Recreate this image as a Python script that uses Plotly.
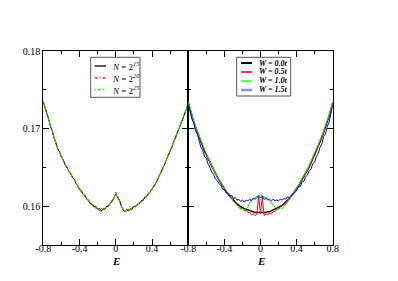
import plotly.graph_objects as go

# Energy grid (E in units of t)
E = [-0.80, -0.78, -0.76, -0.74, -0.72, -0.70, -0.68, -0.66, -0.64, -0.62,
     -0.60, -0.58, -0.56, -0.54, -0.52, -0.50, -0.48, -0.46, -0.44, -0.42,
     -0.40, -0.38, -0.36, -0.34, -0.32, -0.30, -0.28, -0.26, -0.24, -0.22,
     -0.20, -0.18, -0.16, -0.14, -0.12, -0.10, -0.08, -0.06, -0.04, -0.02,
     0.00,
     0.02, 0.04, 0.06, 0.08, 0.10, 0.12, 0.14, 0.16, 0.18, 0.20,
     0.22, 0.24, 0.26, 0.28, 0.30, 0.32, 0.34, 0.36, 0.38, 0.40,
     0.42, 0.44, 0.46, 0.48, 0.50, 0.52, 0.54, 0.56, 0.58, 0.60,
     0.62, 0.64, 0.66, 0.68, 0.70, 0.72, 0.74, 0.76, 0.78, 0.80]

# Left panel: system sizes
n15 = [0.1735, 0.1728, 0.1718, 0.1712, 0.1702, 0.1697, 0.1687, 0.1682, 0.1673, 0.1670,
       0.1663, 0.1660, 0.1653, 0.1651, 0.1645, 0.1643, 0.1637, 0.1635, 0.1629, 0.1627,
       0.1621, 0.1620, 0.1615, 0.1614, 0.1609, 0.1608, 0.1603, 0.1603, 0.1599, 0.1600,
       0.1596, 0.1597, 0.1594, 0.1597, 0.1596, 0.1600, 0.1600, 0.1604, 0.1606, 0.1612,
       0.1616,
       0.1611, 0.1608, 0.1600, 0.1597, 0.1593, 0.1596, 0.1594, 0.1597, 0.1596, 0.1600,
       0.1599, 0.1603, 0.1603, 0.1607, 0.1607, 0.1612, 0.1612, 0.1617, 0.1618, 0.1623,
       0.1625, 0.1630, 0.1633, 0.1640, 0.1643, 0.1650, 0.1654, 0.1661, 0.1665, 0.1672,
       0.1676, 0.1684, 0.1688, 0.1696, 0.1700, 0.1708, 0.1712, 0.1720, 0.1725, 0.1734]
n20 = [0.1733, 0.1726, 0.1720, 0.1710, 0.1704, 0.1695, 0.1689, 0.1680, 0.1675, 0.1668,
       0.1665, 0.1658, 0.1655, 0.1649, 0.1646, 0.1641, 0.1639, 0.1633, 0.1631, 0.1625,
       0.1623, 0.1618, 0.1617, 0.1612, 0.1611, 0.1606, 0.1605, 0.1601, 0.1601, 0.1597,
       0.1598, 0.1594, 0.1597, 0.1595, 0.1598, 0.1598, 0.1602, 0.1602, 0.1608, 0.1610,
       0.1618,
       0.1613, 0.1606, 0.1602, 0.1595, 0.1595, 0.1593, 0.1596, 0.1595, 0.1598, 0.1598,
       0.1601, 0.1601, 0.1605, 0.1605, 0.1609, 0.1610, 0.1614, 0.1615, 0.1620, 0.1621,
       0.1627, 0.1628, 0.1635, 0.1638, 0.1645, 0.1648, 0.1655, 0.1659, 0.1667, 0.1670,
       0.1678, 0.1682, 0.1690, 0.1694, 0.1702, 0.1706, 0.1714, 0.1718, 0.1727, 0.1733]
n25 = [0.1736, 0.1727, 0.1719, 0.1711, 0.1703, 0.1696, 0.1688, 0.1681, 0.1674, 0.1669,
       0.1664, 0.1659, 0.1654, 0.1650, 0.1646, 0.1642, 0.1638, 0.1634, 0.1630, 0.1626,
       0.1622, 0.1619, 0.1616, 0.1613, 0.1610, 0.1607, 0.1604, 0.1602, 0.1600, 0.1599,
       0.1597, 0.1595, 0.1593, 0.1596, 0.1597, 0.1599, 0.1601, 0.1603, 0.1607, 0.1611,
       0.1615,
       0.1612, 0.1607, 0.1601, 0.1596, 0.1594, 0.1594, 0.1595, 0.1596, 0.1597, 0.1599,
       0.1600, 0.1602, 0.1604, 0.1606, 0.1608, 0.1611, 0.1613, 0.1616, 0.1619, 0.1622,
       0.1626, 0.1629, 0.1634, 0.1639, 0.1644, 0.1649, 0.1655, 0.1660, 0.1666, 0.1671,
       0.1677, 0.1683, 0.1689, 0.1695, 0.1701, 0.1707, 0.1713, 0.1719, 0.1726, 0.1735]

# Right panel: disorder strengths
w00 = [0.1733, 0.1724, 0.1716, 0.1709, 0.1702, 0.1695, 0.1689, 0.1683, 0.1677, 0.1671,
       0.1666, 0.1661, 0.1656, 0.1651, 0.1647, 0.1642, 0.1638, 0.1634, 0.1630, 0.1626,
       0.1622, 0.1619, 0.1616, 0.1613, 0.1610, 0.1607, 0.1605, 0.1603, 0.1601, 0.1599,
       0.1598, 0.1597, 0.1596, 0.1595, 0.1594, 0.1593, 0.1593, 0.1592, 0.1592, 0.1592,
       0.1592,
       0.1592, 0.1592, 0.1592, 0.1593, 0.1593, 0.1594, 0.1595, 0.1596, 0.1597, 0.1598,
       0.1599, 0.1601, 0.1603, 0.1605, 0.1607, 0.1610, 0.1613, 0.1616, 0.1619, 0.1622,
       0.1626, 0.1630, 0.1634, 0.1638, 0.1642, 0.1647, 0.1651, 0.1656, 0.1661, 0.1666,
       0.1671, 0.1677, 0.1683, 0.1689, 0.1695, 0.1702, 0.1709, 0.1716, 0.1724, 0.1733]
w05 = [0.1734, 0.1723, 0.1717, 0.1708, 0.1703, 0.1694, 0.1690, 0.1682, 0.1678, 0.1670,
       0.1667, 0.1660, 0.1657, 0.1650, 0.1648, 0.1641, 0.1639, 0.1633, 0.1631, 0.1625,
       0.1623, 0.1618, 0.1617, 0.1612, 0.1611, 0.1606, 0.1605, 0.1601, 0.1601, 0.1597,
       0.1597, 0.1594, 0.1595, 0.1592, 0.1592, 0.1589, 0.1590, 0.1588, 0.1590, 0.1614,
       0.1590,
       0.1612, 0.1588, 0.1590, 0.1589, 0.1591, 0.1590, 0.1593, 0.1593, 0.1596, 0.1597,
       0.1600, 0.1600, 0.1604, 0.1604, 0.1608, 0.1609, 0.1614, 0.1615, 0.1620, 0.1621,
       0.1627, 0.1629, 0.1635, 0.1637, 0.1643, 0.1646, 0.1652, 0.1655, 0.1662, 0.1665,
       0.1672, 0.1676, 0.1684, 0.1688, 0.1696, 0.1701, 0.1710, 0.1715, 0.1725, 0.1732]
w10 = [0.1735, 0.1726, 0.1717, 0.1710, 0.1703, 0.1697, 0.1690, 0.1684, 0.1678, 0.1673,
       0.1667, 0.1662, 0.1657, 0.1652, 0.1647, 0.1643, 0.1638, 0.1635, 0.1630, 0.1627,
       0.1623, 0.1619, 0.1617, 0.1613, 0.1611, 0.1606, 0.1604, 0.1601, 0.1598, 0.1596,
       0.1597, 0.1595, 0.1597, 0.1599, 0.1604, 0.1609, 0.1610, 0.1611, 0.1612, 0.1614,
       0.1615,
       0.1613, 0.1612, 0.1611, 0.1610, 0.1607, 0.1604, 0.1602, 0.1599, 0.1598, 0.1596,
       0.1598, 0.1597, 0.1600, 0.1602, 0.1605, 0.1609, 0.1613, 0.1616, 0.1620, 0.1623,
       0.1627, 0.1631, 0.1635, 0.1639, 0.1644, 0.1648, 0.1653, 0.1658, 0.1663, 0.1668,
       0.1673, 0.1679, 0.1685, 0.1691, 0.1697, 0.1704, 0.1711, 0.1718, 0.1726, 0.1735]
w15 = [0.1731, 0.1722, 0.1712, 0.1707, 0.1697, 0.1693, 0.1684, 0.1676, 0.1672, 0.1664,
       0.1662, 0.1654, 0.1650, 0.1644, 0.1641, 0.1635, 0.1633, 0.1629, 0.1627, 0.1622,
       0.1621, 0.1617, 0.1617, 0.1613, 0.1614, 0.1610, 0.1611, 0.1608, 0.1609, 0.1606,
       0.1608, 0.1605, 0.1608, 0.1607, 0.1609, 0.1607, 0.1610, 0.1609, 0.1611, 0.1613,
       0.1611,
       0.1613, 0.1609, 0.1610, 0.1608, 0.1609, 0.1607, 0.1609, 0.1607, 0.1608, 0.1607,
       0.1609, 0.1608, 0.1610, 0.1609, 0.1612, 0.1611, 0.1614, 0.1615, 0.1618, 0.1620,
       0.1625, 0.1625, 0.1631, 0.1632, 0.1638, 0.1640, 0.1646, 0.1648, 0.1655, 0.1657,
       0.1664, 0.1668, 0.1676, 0.1680, 0.1690, 0.1693, 0.1703, 0.1708, 0.1719, 0.1730]

left_labels = ["<i>N</i> = 2<sup><i>15</i></sup>", "<i>N</i> = 2<sup><i>20</i></sup>",
               "<i>N</i> = 2<sup><i>25</i></sup>"]
right_labels = ["<b><i>W = 0.0t</i></b>", "<b><i>W = 0.5t</i></b>",
                "<b><i>W = 1.0t</i></b>", "<b><i>W = 1.5t</i></b>"]
x_title = "<b><i>E</i></b>"

x_tickvals_left = [-0.8, -0.4, 0.0, 0.4]
x_ticktext_left = ["-0.8", "-0.4", "0", "0.4"]
x_tickvals_right = [-0.8, -0.4, 0.0, 0.4, 0.8]
x_ticktext_right = ["-0.8", "-0.4", "0", "0.4", "0.8"]
y_tickvals = [0.16, 0.17, 0.18]
y_ticktext = ["0.16", "0.17", "0.18"]

FONT = "Liberation Serif"
W_PX, H_PX = 398, 281
OFF = 8  # page body margin of the html page


def px(sx):
    return (sx - OFF) / W_PX


def py(sy):
    return 1 - (sy - OFF) / H_PX


fig = go.Figure()
left_styles = [("#000000", "solid", 1.0), ("#ff0000", "dashdot", 1.0), ("#00ee00", "dashdot", 1.0)]
for ys, (c, d, w) in zip([n15, n20, n25], left_styles):
    fig.add_trace(go.Scatter(x=E, y=ys, mode="lines", line=dict(color=c, dash=d, width=w),
                             xaxis="x", yaxis="y", showlegend=False))
right_styles = [("#000000", 1.5), ("#ff0000", 1.0), ("#00ee00", 1.0), ("#0000ff", 1.0)]
for ys, (c, w) in zip([w00, w05, w10, w15], right_styles):
    fig.add_trace(go.Scatter(x=E, y=ys, mode="lines", line=dict(color=c, width=w),
                             xaxis="x2", yaxis="y2", showlegend=False))

ax_common = dict(range=[-0.8, 0.8], showgrid=False, zeroline=False, showline=True, automargin=False,
                 linecolor="black", linewidth=1.2, mirror="ticks", ticks="inside",
                 ticklen=6, tickwidth=1, tickcolor="black",
                 ticklabelstandoff=-6,
                 minor=dict(tickvals=[-0.6, -0.2, 0.2, 0.6], ticklen=3, ticks="inside", tickcolor="black"),
                 tickfont=dict(family=FONT, size=10, color="black"))
ay_common = dict(range=[0.155, 0.18], showgrid=False, zeroline=False, showline=True, automargin=False,
                 linecolor="black", linewidth=1.2, mirror="ticks", ticks="inside",
                 ticklen=6, tickwidth=1, tickcolor="black", tickvals=y_tickvals, ticktext=y_ticktext,
                 minor=dict(tickvals=[0.165, 0.175], ticklen=3, ticks="inside", tickcolor="black"),
                 tickfont=dict(family=FONT, size=10, color="black"))

fig.update_layout(
    width=W_PX, height=H_PX,
    margin=dict(l=0, r=0, t=0, b=0),
    paper_bgcolor="white", plot_bgcolor="white",
    xaxis=dict(domain=[px(43.3), px(188.3)], tickvals=x_tickvals_left, ticktext=x_ticktext_left,
               anchor="y", **ax_common),
    xaxis2=dict(domain=[px(188.3), px(332.7)], tickvals=x_tickvals_right, ticktext=x_ticktext_right,
                anchor="y2", **ax_common),
    yaxis=dict(domain=[py(245), py(51)], anchor="x", **ay_common),
    yaxis2=dict(domain=[py(245), py(51)], anchor="x2", showticklabels=False, **ay_common),
)

# Axis titles "E" under each panel
for cx in (115.8, 260.5):
    fig.add_annotation(xref="paper", yref="paper", x=px(cx), y=py(261), xanchor="center", yanchor="middle",
                       text=x_title, showarrow=False, font=dict(family=FONT, size=11, color="black"))

# Legend boxes (frame + sample lines + labels)
fig.add_shape(type="rect", xref="paper", yref="paper", x0=px(90.7), x1=px(140), y0=py(97.3), y1=py(57.3),
              line=dict(color="#555555", width=1), fillcolor="white", layer="above")
fig.add_shape(type="rect", xref="paper", yref="paper", x0=px(236.7), x1=px(290.7), y0=py(96.0), y1=py(57.3),
              line=dict(color="#555555", width=1), fillcolor="white", layer="above")

left_rows = [66.0, 77.8, 89.5]
left_sample_dash = ["solid", "3px,2px,1px,2px", "1px,2px,3px,2px"]
for (c, d, w), dsh, lab, ry in zip(left_styles, left_sample_dash, left_labels, left_rows):
    fig.add_shape(type="line", xref="paper", yref="paper", x0=px(94.7), x1=px(106), y0=py(ry), y1=py(ry),
                  line=dict(color=c, dash=dsh, width=1.3), layer="above")
    fig.add_annotation(xref="paper", yref="paper", x=px(110), y=py(ry), xanchor="left", yanchor="middle",
                       text=lab, showarrow=False, font=dict(family=FONT, size=9, color="black"))

right_rows = [63.0, 72.0, 81.0, 90.0]
right_legend_colors = [("#000000", 2.0), ("#ff0000", 1.5), ("#33ff33", 1.5), ("#8c8cff", 2.5)]
for (c, w), lab, ry in zip(right_legend_colors, right_labels, right_rows):
    fig.add_shape(type="line", xref="paper", yref="paper", x0=px(241), x1=px(252), y0=py(ry), y1=py(ry),
                  line=dict(color=c, width=w), layer="above")
    fig.add_annotation(xref="paper", yref="paper", x=px(256.5), y=py(ry), xanchor="left", yanchor="middle",
                       text=lab, showarrow=False, font=dict(family=FONT, size=8, color="black"))

fig.write_html("out.html")
